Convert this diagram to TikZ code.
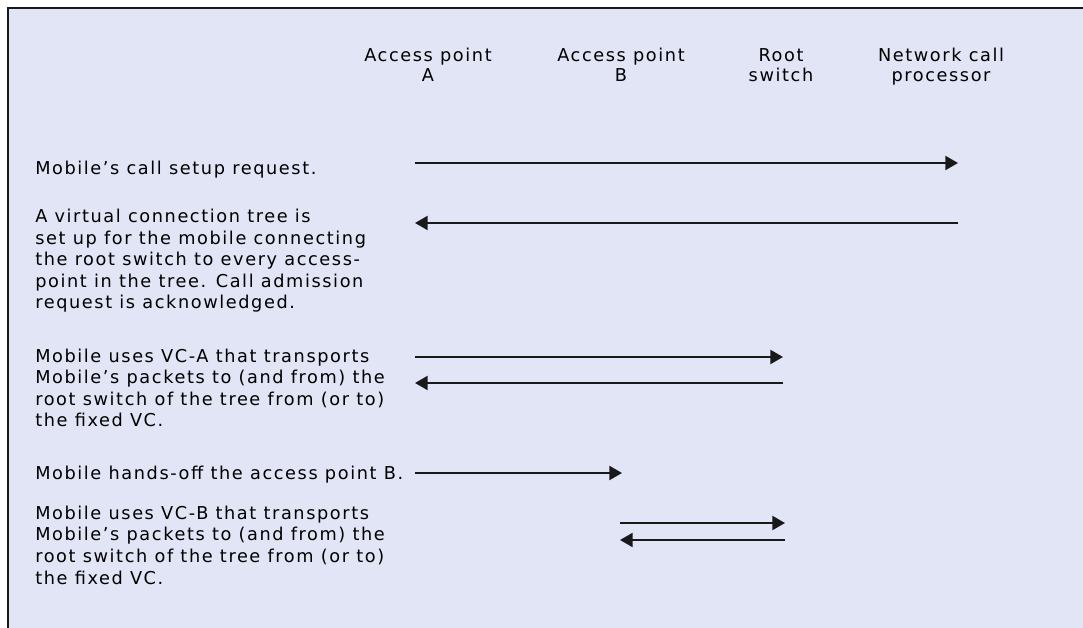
\documentclass[tikz,border=0pt]{standalone}
\usepackage{fontspec}
\setmainfont[LetterSpace=9]{DejaVu Sans}
\usepackage{tikz}
\usetikzlibrary{arrows.meta, positioning}
\definecolor{notebg}{RGB}{226, 229, 246}
\definecolor{noteline}{RGB}{25, 25, 25}

\begin{document}
\begin{tikzpicture}[x=0.025cm, y=-0.025cm,
    lbl/.style={font=\fontsize{12.6}{15.4}\selectfont, inner sep=0pt, align=left, anchor=base west},
    head/.style={font=\fontsize{12.6}{14.9}\selectfont, inner sep=0pt, align=center, anchor=base},
    msg/.style={line width=1.4pt, noteline, -{Triangle[length=9pt, width=10pt]}}]
    \useasboundingbox (0,0) rectangle (1083,628);

    % background and frame
    \fill[notebg] (8,8) rectangle (1083,628);
    \draw[noteline, line width=1.4pt] (8,628) -- (8,8) -- (1083,8);

    % columns (base = last line)
    \node[head] (apA) at (428,82) {Access point\\A};
    \node[head] (apB) at (621,82) {Access point\\B};
    \node[head] (rsw) at (781,82) {Root\\switch};
    \node[head] (ncp) at (941,82) {Network call\\processor};

    % steps (base = last line)
    \node[lbl] (req) at (35,175) {Mobile’s call setup request.};
    \node[lbl] (tree) at (35,309) {A virtual connection tree is\\set up for the mobile connecting\\the root switch to every access-\\point in the tree. Call admission\\request is acknowledged.};
    \node[lbl] (vca) at (35,427) {Mobile uses VC-A that transports\\Mobile’s packets to (and from) the\\root switch of the tree from (or to)\\the fixed VC.};
    \node[lbl] (hoff) at (35,479) {Mobile hands-off the access point B.};
    \node[lbl] (vcb) at (35,584) {Mobile uses VC-B that transports\\Mobile’s packets to (and from) the\\root switch of the tree from (or to)\\the fixed VC.};

    % message ends
    \coordinate (m1s) at (415,163); \coordinate (m1e) at (958,163);
    \coordinate (m2s) at (958,223); \coordinate (m2e) at (415,223);
    \coordinate (m3s) at (415,357); \coordinate (m3e) at (783,357);
    \coordinate (m4s) at (783,383); \coordinate (m4e) at (415,383);
    \coordinate (m5s) at (415,473); \coordinate (m5e) at (622,473);
    \coordinate (m6s) at (620,523); \coordinate (m6e) at (785,523);
    \coordinate (m7s) at (785,540); \coordinate (m7e) at (620,540);

    % messages
    \draw[msg] (m1s) -- (m1e);
    \draw[msg] (m2s) -- (m2e);
    \draw[msg] (m3s) -- (m3e);
    \draw[msg] (m4s) -- (m4e);
    \draw[msg] (m5s) -- (m5e);
    \draw[msg] (m6s) -- (m6e);
    \draw[msg] (m7s) -- (m7e);
\end{tikzpicture}
\end{document}
